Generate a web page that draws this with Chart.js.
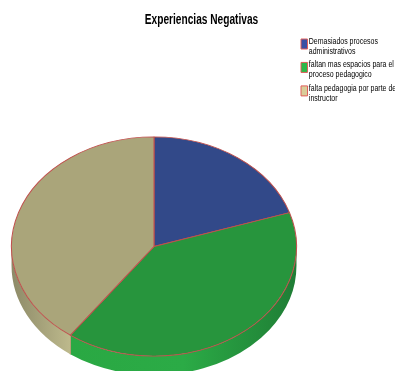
<!DOCTYPE html>
<html>
<head>
<meta charset="utf-8">
<style>
  html, body { margin: 0; padding: 0; background: #fff; }
  #wrap { position: relative; width: 395px; height: 371px; overflow: hidden; }
</style>
<script src="https://cdn.jsdelivr.net/npm/chart.js@4"></script>
</head>
<body>
<div id="wrap"><canvas id="pieChart" width="395" height="371"></canvas></div>
<script>
const titleText = "Experiencias Negativas";
const categories = [
  ["Demasiados procesos", "administrativos"],
  ["faltan mas espacios para el", "proceso pedagogico"],
  ["falta pedagogia por parte de", "instructor"],
];
const values = [1, 2, 2];
const sliceColors = ["#324989", "#27953d", "#aaa57a"];
const legendColors = ["#3a50a4", "#2db84a", "#d9cd9a"];
const edgeColor = "#c0504d";

// Side wall colours, left to right across the pie
const wallColors = [
  ["#324989", "#324989"],
  ["#2aa843", "#2bab46", "#1f7d35"],
  ["#8d8a68", "#bdb98c"],
];

const stretchX = 143 / 110;
const depth = 19;
const titleSquash = 0.725;
const legendSquash = 0.735;

// Squashes the round pie to an ellipse and draws the wall under it
const tiltPlugin = {
  id: "tilt",
  beforeDatasetsDraw(chart) {
    const ctx = chart.ctx;
    const arcs = chart.getDatasetMeta(0).data;
    const cx = arcs[0].x;
    ctx.save();
    ctx.translate(cx, 0);
    ctx.scale(stretchX, 1);
    ctx.translate(-cx, 0);

    arcs.forEach((arc, i) => {
      const r = arc.outerRadius;
      const from = Math.max(arc.startAngle, 0);
      const to = Math.min(arc.endAngle, Math.PI);
      if (to <= from) return;

      const grad = ctx.createLinearGradient(arc.x + r * Math.cos(to), 0, arc.x + r * Math.cos(from), 0);
      wallColors[i].forEach((c, n) => grad.addColorStop(n / (wallColors[i].length - 1), c));

      ctx.beginPath();
      ctx.arc(arc.x, arc.y, r, from, to);
      ctx.arc(arc.x, arc.y + depth, r, to, from, true);
      ctx.closePath();
      ctx.fillStyle = grad;
      ctx.fill();

      // seam between two slices
      if (arc.endAngle < Math.PI) {
        const sx = arc.x + r * Math.cos(arc.endAngle);
        const sy = arc.y + r * Math.sin(arc.endAngle);
        ctx.beginPath();
        ctx.moveTo(sx, sy);
        ctx.lineTo(sx, sy + depth);
        ctx.strokeStyle = "#d08a70";
        ctx.lineWidth = 0.8;
        ctx.stroke();
      }
    });
  },
  afterDatasetsDraw(chart) {
    chart.ctx.restore();
  },
  // title and legend sit apart from the pie, so move them after layout
  afterLayout(chart) {
    const ctx = chart.ctx;
    const title = chart.titleBlock;
    const legend = chart.legend;

    title.left = 0;
    title.right = 403;
    const drawTitle = title.draw.bind(title);
    title.draw = function () {
      // no narrow font is installed, so condense the text
      ctx.save();
      ctx.translate(201.5, 0);
      ctx.scale(titleSquash, 1);
      ctx.translate(-201.5, 0);
      drawTitle();
      ctx.restore();
    };

    const dx = 297.5 - legend.left;
    const dy = 32.5 - legend.top;
    legend.left += dx;
    legend.right += dx;
    legend.top += dy;
    legend.bottom += dy;
    legend.legendHitBoxes.forEach((box) => {
      box.left += dx;
      box.top += dy;
    });

    const drawLegend = legend.draw.bind(legend);
    legend.draw = function () {
      // swatches: normal width, a little lower than the first text line
      ctx.save();
      ctx.beginPath();
      ctx.rect(299, 0, 9.5, 371);
      ctx.clip();
      ctx.translate(0, 3);
      drawLegend();
      ctx.restore();

      // texts: condensed, starting right after the swatch
      ctx.save();
      ctx.beginPath();
      ctx.rect(308, 0, 87, 371);
      ctx.clip();
      ctx.translate(308.5, 0);
      ctx.scale(legendSquash, 1);
      ctx.translate(-311.8, 0);
      drawLegend();
      ctx.restore();
    };
  },
};

new Chart(document.getElementById("pieChart"), {
  type: "pie",
  data: {
    labels: categories,
    datasets: [
      {
        data: values,
        backgroundColor: sliceColors,
        borderColor: edgeColor,
        borderWidth: 0.8,
        clip: false,
      },
    ],
  },
  options: {
    responsive: false,
    animation: false,
    layout: {
      padding: { left: 44, right: 131, top: 12, bottom: 14.5 },
    },
    plugins: {
      tooltip: { enabled: false },
      title: {
        display: true,
        text: titleText,
        color: "#000",
        font: { family: "'Liberation Sans', sans-serif", size: 14, weight: "bold" },
        padding: { top: 0, bottom: 107.7 },
      },
      legend: {
        position: "chartArea",
        align: "start",
        labels: {
          boxWidth: 6.5,
          boxHeight: 10,
          padding: 3.5,
          color: "#000",
          font: { family: "'Liberation Sans', sans-serif", size: 9.5, lineHeight: 1.05 },
          generateLabels() {
            return categories.map((text, i) => ({
              text: text,
              fillStyle: legendColors[i],
              strokeStyle: "#e0605c",
              lineWidth: 1,
              fontColor: "#000",
              index: i,
            }));
          },
        },
      },
    },
  },
  plugins: [tiltPlugin],
});
</script>
</body>
</html>
